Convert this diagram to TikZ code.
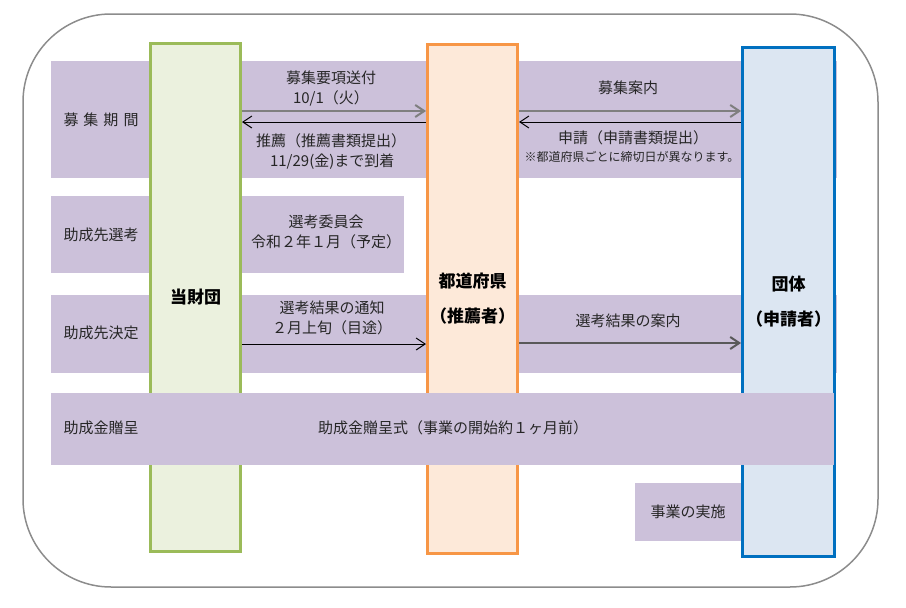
\documentclass[tikz,border=0pt]{standalone}
\usepackage{fontspec}
\setmainfont{Noto Sans CJK JP}
\usetikzlibrary{arrows.meta}
\usetikzlibrary{positioning}
\definecolor{bandcol}{HTML}{CCC1DA}
\definecolor{greenfill}{HTML}{EBF1DE}
\definecolor{greenline}{HTML}{9BBB59}
\definecolor{orangefill}{HTML}{FDE9D9}
\definecolor{orangeline}{HTML}{F79646}
\definecolor{bluefill}{HTML}{DCE6F2}
\definecolor{blueline}{HTML}{0070C0}
\definecolor{framecol}{HTML}{8C8C8C}
\definecolor{arrowgray}{HTML}{7F7F7F}
\definecolor{txtcol}{HTML}{262626}
\tikzstyle{band}=[rectangle,fill=bandcol,inner sep=0pt,outer sep=0pt,anchor=north west]
\tikzstyle{column}=[rectangle,line width=3pt,inner sep=0pt,anchor=north west,align=center,text=black,font=\bfseries\fontsize{17}{35}\selectfont]
\tikzstyle{steplabel}=[inner sep=0pt,align=center,text=txtcol,font=\fontsize{15}{20}\selectfont]
\tikzstyle{notelabel}=[inner sep=0pt,align=center,text=txtcol,font=\fontsize{12}{14}\selectfont]
\tikzstyle{sendarrow}=[-{Straight Barb[length=9pt,width=12pt]},line width=2pt,draw=arrowgray]
\tikzstyle{returnarrow}=[-{Straight Barb[length=9pt,width=12pt]},line width=1pt,draw=black]
\newcommand{\drawband}[6]{
% name, x, y, width, height, text
\node[band,minimum width=#4pt,minimum height=#5pt] (#1) at (#2,#3) {#6};
}
\begin{document}
\begin{tikzpicture}[x=1pt,y=-1pt]
  \useasboundingbox (0,0) rectangle (906,608);
  \draw[framecol,line width=1.5pt,rounded corners=88pt] (23,14) rectangle (878,587);
  % rows behind the columns
  \drawband{band1}{51}{61}{786}{117}{}
  \drawband{band2a}{51}{196}{98}{77}{}
  \drawband{band2b}{242}{196}{162}{77}{}
  \drawband{band3}{51}{295}{786}{78}{}
  % the three parties
  \node[column,draw=greenline,fill=greenfill,minimum width=90pt,minimum height=508pt] (zaidan) at (149,42) {当財団};
  \node[column,draw=orangeline,fill=orangefill,minimum width=90pt,minimum height=509pt] (pref) at (426,43) {都道府県\\（推薦者）};
  \node[column,draw=blueline,fill=bluefill,minimum width=92pt,minimum height=509pt] (dantai) at (741,46) {団体\\（申請者）};
  % rows in front
  \drawband{band4}{51}{393}{783}{72}{}
  \drawband{band5}{635}{483}{106}{58}{}
  % arrows
  \foreach \a/\b in {zaidan/pref, pref/dantai} {
    \draw[sendarrow] (\a.east |- 0,111) -- (\b.west |- 0,111);
    \draw[returnarrow] (\b.west |- 0,122) -- (\a.east |- 0,122);
  }
  \draw[returnarrow] (zaidan.east |- 0,344) -- (pref.west |- 0,344);
  \draw[sendarrow,draw=black!65] (pref.east |- 0,343) -- (dantai.west |- 0,343);
  % texts
  \node[steplabel] (lab1) at (101,120) {募\hspace{5pt}集\hspace{5pt}期\hspace{5pt}間};
  \node[steplabel] (lab2) at (101,235) {助成先選考};
  \node[steplabel] (lab3) at (101,333) {助成先決定};
  \node[steplabel] (lab4) at (101,428) {助成金贈呈};
  \node[steplabel] (send1) at (331,89) {募集要項送付\\10/1（火）};
  \node[steplabel] (back1) at (331,151.5) {推薦（推薦書類提出）\\\,11/29(金)まで到着};
  \node[steplabel] (send2) at (628,88) {募集案内};
  \node[steplabel] (back2) at (633,138) {申請（申請書類提出）};
  \node[notelabel] (note2) at (632,157) {※都道府県ごとに締切日が異なります。};
  \node[steplabel] (select) at (326,232) {選考委員会\\令和２年１月（予定）};
  \node[steplabel] (notify) at (332,318) {選考結果の通知\\２月上旬（目途）};
  \node[steplabel] (notice) at (628,321) {選考結果の案内};
  \node[steplabel] (award) at (453,428) {助成金贈呈式（事業の開始約１ヶ月前）};
  \node[steplabel] (work) at (band5.center) {事業の実施};
\end{tikzpicture}
\end{document}
